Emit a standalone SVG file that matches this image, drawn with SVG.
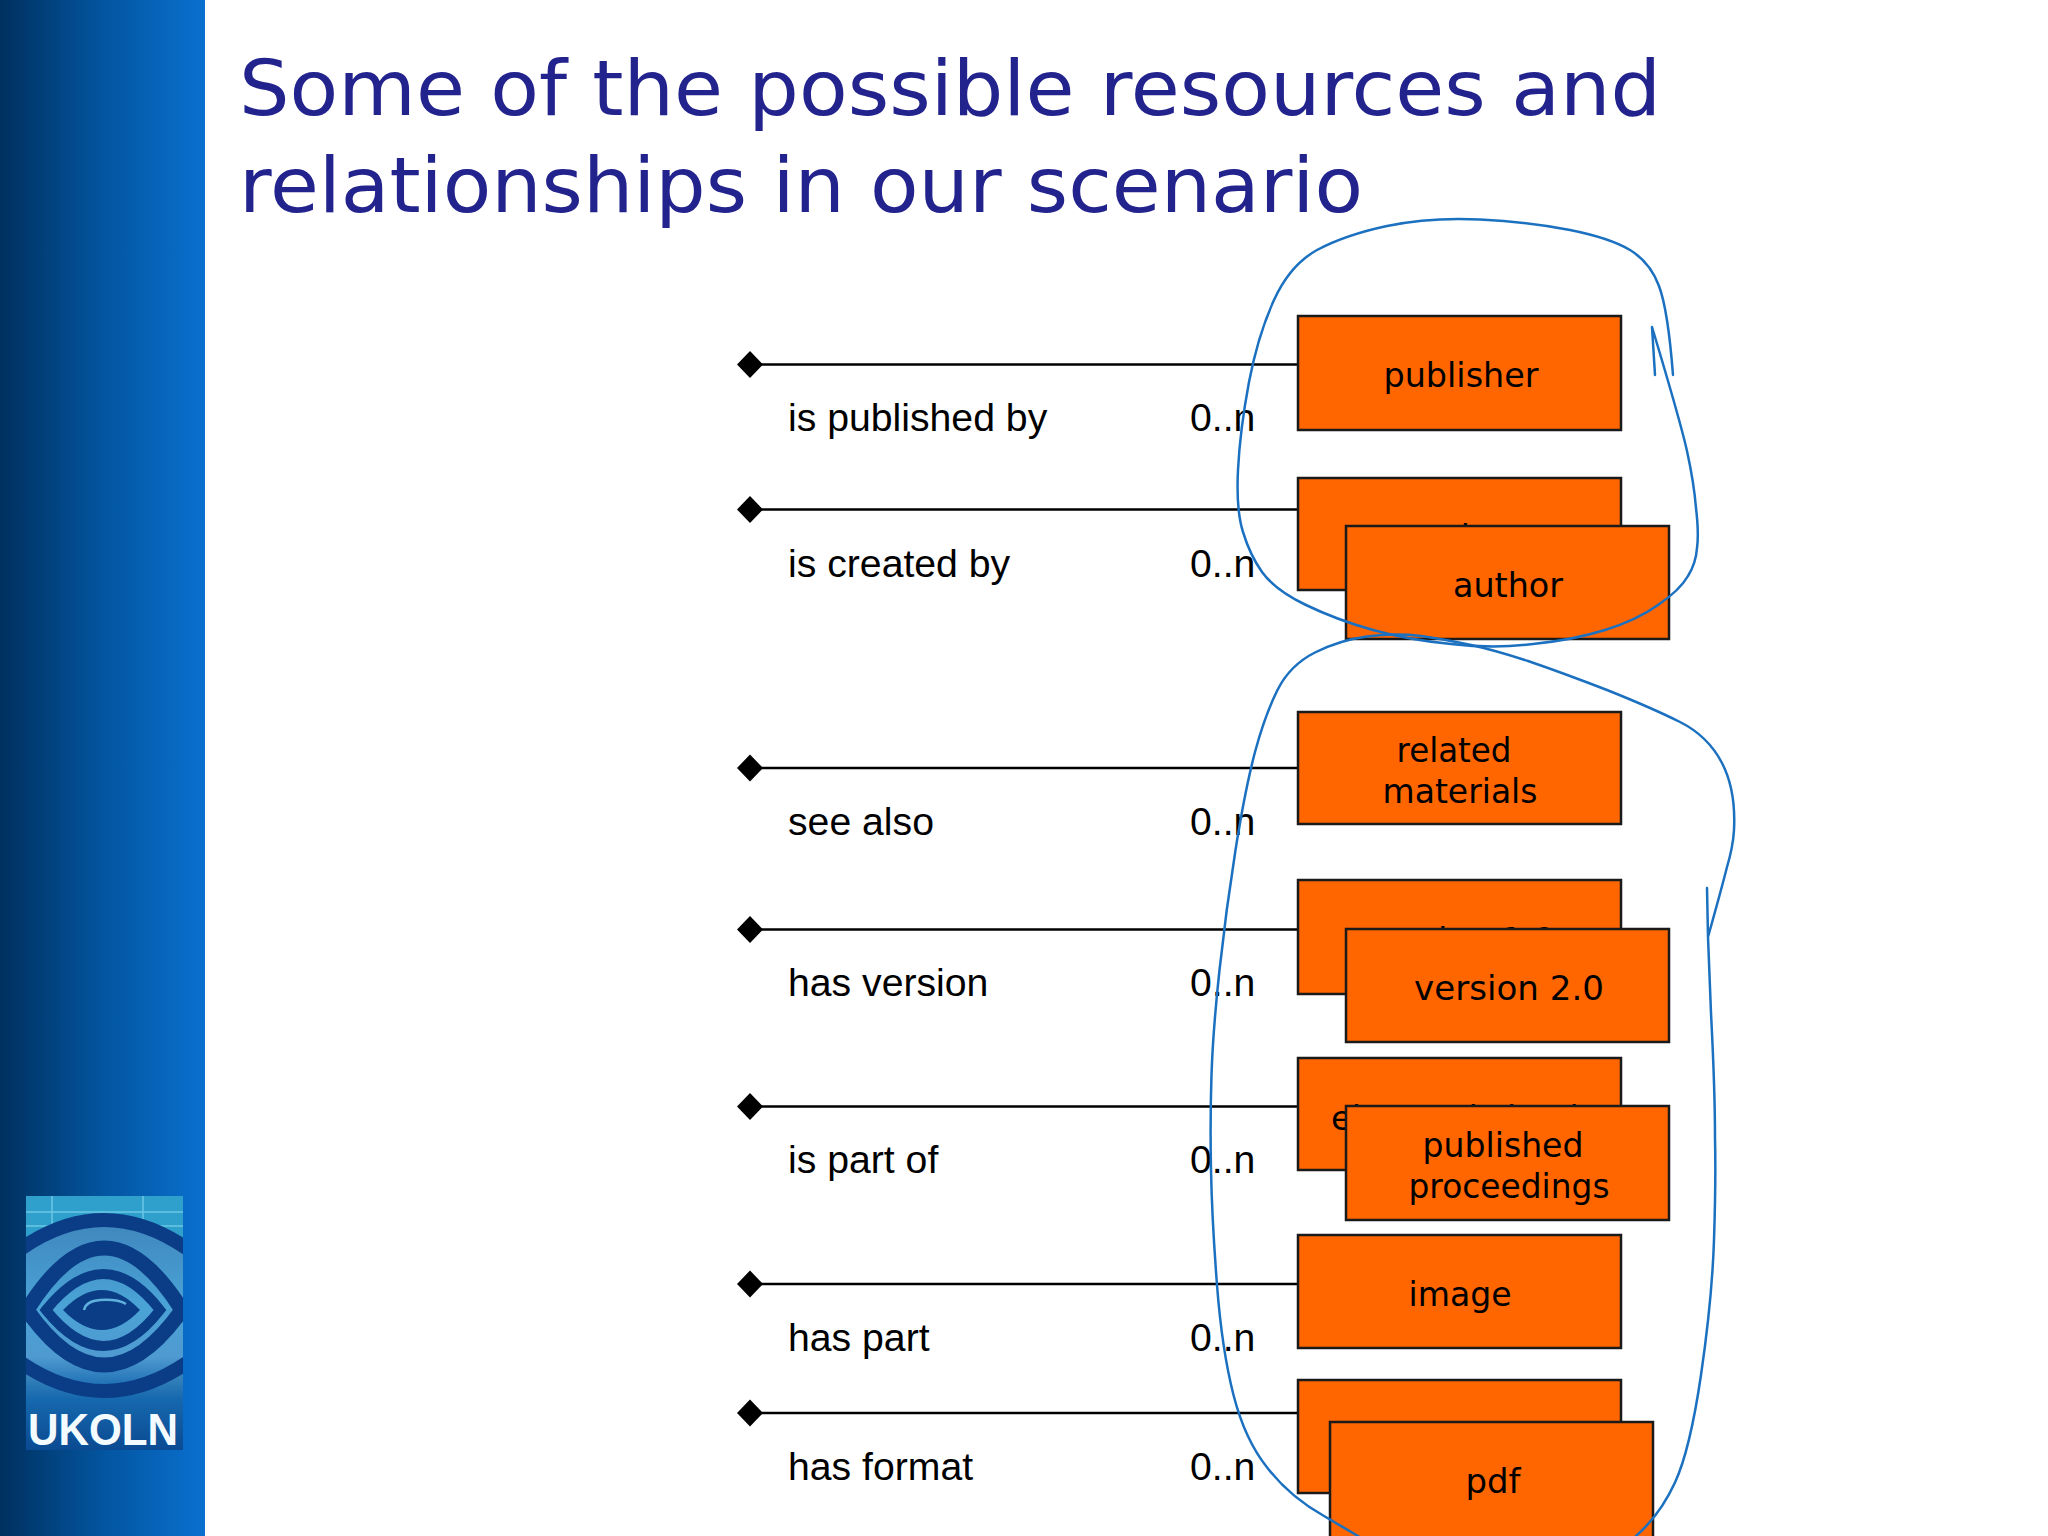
<svg xmlns="http://www.w3.org/2000/svg" width="2048" height="1536" viewBox="0 0 2048 1536">
<style>
.title{font-family:"DejaVu Sans",Verdana,sans-serif;font-size:76px;fill:#23238e}
.box{fill:#ff6600;stroke:#1a1a1a;stroke-width:2.5}
.bt{font-family:"DejaVu Sans",Verdana,sans-serif;font-size:33px;fill:#000;text-anchor:middle}
.lb{font-family:"Liberation Sans",Arial,sans-serif;font-size:39.2px;fill:#000}
.conn{stroke:#000;stroke-width:2.5;fill:none;marker-start:url(#dia)}
.ink{fill:none;stroke:#1b70c0;stroke-width:2.5;stroke-linejoin:round;stroke-linecap:round}
.ring{fill:none;stroke:#0a3d85}
</style>
<defs>
<linearGradient id="side" x1="0" y1="0" x2="1" y2="0"><stop offset="0" stop-color="#00305f"/><stop offset="0.5" stop-color="#03559f"/><stop offset="1" stop-color="#0a70d0"/></linearGradient>
<linearGradient id="lens" x1="0" y1="0" x2="0" y2="1"><stop offset="0" stop-color="#2f9fcc"/><stop offset="0.25" stop-color="#2f9fcc"/><stop offset="0.7" stop-color="#3a86bc"/><stop offset="0.8" stop-color="#1668ae"/><stop offset="1" stop-color="#0a4a92"/></linearGradient>
<linearGradient id="iris" x1="0" y1="0" x2="0" y2="1"><stop offset="0" stop-color="#3f86bd"/><stop offset="0.5" stop-color="#4aa3d6"/><stop offset="0.8" stop-color="#4f9ad0"/><stop offset="1" stop-color="#1668ae"/></linearGradient>
<clipPath id="lc"><rect x="26" y="1196" width="157" height="254"/></clipPath>
<marker id="dia" markerUnits="userSpaceOnUse" markerWidth="30" markerHeight="30" refX="15" refY="15"><path d="M15 1.500L28 15L15 28.500L2 15Z" fill="#000"/></marker>
</defs>
<rect width="2048" height="1536" fill="#fff"/>
<rect id="sidebar" width="205" height="1536" fill="url(#side)"/>
<g id="logo" clip-path="url(#lc)">
<rect x="26" y="1196" width="157" height="254" fill="url(#lens)"/>
<path d="M26 1212H183M26 1226H183M52 1196V1250M143 1196V1250" stroke="#6cc7e4" stroke-width="1.500" fill="none"/>
<path class="ring" style="fill:url(#iris)" stroke-width="14" d="M-40 1306Q104 1134 248 1306Q104 1476 -40 1306Z"/>
<path class="ring" stroke-width="15" d="M27 1310Q104 1186 182 1310Q104 1420 27 1310Z"/>
<path class="ring" stroke-width="10" d="M46 1310Q104 1238 160 1310Q104 1382 46 1310Z"/>
<path fill="#0a3d85" d="M63 1310Q102 1270 140 1310Q102 1350 63 1310Z"/>
<path fill="none" stroke="#5fb0dc" stroke-width="2.500" d="M84 1310Q86 1301 100 1300Q118 1299 126 1304"/>
<text x="28" y="1445" font-family="Liberation Sans, Arial, sans-serif" font-weight="bold" font-size="44" fill="#f4fbff" textLength="150" lengthAdjust="spacingAndGlyphs">UKOLN</text>
</g>
<g id="title">
<text class="title" x="239" y="115" textLength="1422" lengthAdjust="spacingAndGlyphs">Some of the possible resources and</text>
<text class="title" x="239" y="212" textLength="1124" lengthAdjust="spacingAndGlyphs">relationships in our scenario</text>
</g>
<g id="connectors">
<path class="conn" d="M750 364.500H1298"/>
<path class="conn" d="M750 509.500H1298"/>
<path class="conn" d="M750 768H1298"/>
<path class="conn" d="M750 929.500H1298"/>
<path class="conn" d="M750 1106.500H1298"/>
<path class="conn" d="M750 1284H1298"/>
<path class="conn" d="M750 1413H1298"/>
</g>
<g id="labels">
<text class="lb" x="788" y="431">is published by</text><text class="lb" x="1190" y="431">0..n</text>
<text class="lb" x="788" y="576.500">is created by</text><text class="lb" x="1190" y="576.500">0..n</text>
<text class="lb" x="788" y="835">see also</text><text class="lb" x="1190" y="835">0..n</text>
<text class="lb" x="788" y="996">has version</text><text class="lb" x="1190" y="996">0..n</text>
<text class="lb" x="788" y="1173">is part of</text><text class="lb" x="1190" y="1173">0..n</text>
<text class="lb" x="788" y="1351">has part</text><text class="lb" x="1190" y="1351">0..n</text>
<text class="lb" x="788" y="1480">has format</text><text class="lb" x="1190" y="1480">0..n</text>
</g>
<g id="node-publisher"><rect class="box" x="1298" y="316" width="323" height="114"/><text class="bt" x="1461" y="387" textLength="155" lengthAdjust="spacingAndGlyphs">publisher</text></g>
<g id="node-author-back"><rect class="box" x="1298" y="478" width="323" height="112"/><text class="bt" x="1461" y="549" textLength="110" lengthAdjust="spacingAndGlyphs">author</text></g>
<g id="node-author"><rect class="box" x="1346" y="526" width="323" height="113"/><text class="bt" x="1508" y="597" textLength="110" lengthAdjust="spacingAndGlyphs">author</text></g>
<g id="node-related"><rect class="box" x="1298" y="712" width="323" height="112"/><text class="bt" x="1454" y="762" textLength="115" lengthAdjust="spacingAndGlyphs">related</text><text class="bt" x="1460" y="803" textLength="155" lengthAdjust="spacingAndGlyphs">materials</text></g>
<g id="node-version1"><rect class="box" x="1298" y="880" width="323" height="114"/><text class="bt" x="1460" y="952" textLength="190" lengthAdjust="spacingAndGlyphs">version 1.0</text></g>
<g id="node-version2"><rect class="box" x="1346" y="929" width="323" height="113"/><text class="bt" x="1509" y="1000" textLength="190" lengthAdjust="spacingAndGlyphs">version 2.0</text></g>
<g id="node-ebook"><rect class="box" x="1298" y="1058" width="323" height="112"/><text class="bt" x="1460" y="1130" textLength="258" lengthAdjust="spacingAndGlyphs">electronic book</text></g>
<g id="node-proceedings"><rect class="box" x="1346" y="1106" width="323" height="114"/><text class="bt" x="1503" y="1157" textLength="161" lengthAdjust="spacingAndGlyphs">published</text><text class="bt" x="1509" y="1198" textLength="201" lengthAdjust="spacingAndGlyphs">proceedings</text></g>
<g id="node-image"><rect class="box" x="1298" y="1235" width="323" height="113"/><text class="bt" x="1460" y="1306" textLength="103" lengthAdjust="spacingAndGlyphs">image</text></g>
<g id="node-format"><rect class="box" x="1298" y="1380" width="323" height="113"/></g>
<g id="node-pdf"><rect class="box" x="1330" y="1422" width="323" height="130"/><text class="bt" x="1493" y="1493" textLength="55" lengthAdjust="spacingAndGlyphs">pdf</text></g>
<g id="annotations">
<path class="ink" d="M1673,375 Q1668,310 1659,286 Q1650,262 1630,250 Q1610,238 1570,230 Q1530,222 1480,219.500 Q1430,217 1387,226 Q1345,235 1317,250 Q1290,265 1274,300 Q1258,335 1249,382 Q1240,430 1238,470 Q1236,510 1243,532 Q1250,555 1262,572 Q1275,590 1306,605 Q1337,620 1373,630 Q1409,640 1451,644 Q1494,649 1533,644 Q1573,640 1605,630 Q1637,620 1658,605 Q1680,590 1688,576 Q1696,563 1697,548 Q1699,533 1696,508 Q1694,483 1687,451 Q1680,420 1652,327 L1655,375"/>
<path class="ink" d="M1707,888 L1708,937 Q1722,887 1727,867 Q1733,847 1734,830 Q1736,790 1722,763 Q1708,736 1680,722 Q1652,708 1607,690 Q1563,673 1528,661 Q1494,650 1471,645 Q1448,640 1421,636 Q1394,633 1367,636.500 Q1340,640 1315,652.500 Q1290,665 1277.500,690 Q1265,715 1255,752 Q1245,790 1235.500,850 Q1226,910 1219.500,970 Q1213,1030 1211.500,1075 Q1210,1120 1211,1170 Q1212,1220 1217,1285 Q1222,1350 1233.500,1395 Q1245,1440 1267.500,1468 Q1290,1497 1324,1516 L1358,1536 L1370,1544 L1625,1550 L1636,1536 Q1660,1515 1675,1482.500 Q1690,1450 1701,1375 Q1712,1300 1714,1240 Q1716,1180 1715,1138 Q1715,1090 1711,1013 L1708,937"/>
</g>
</svg>
